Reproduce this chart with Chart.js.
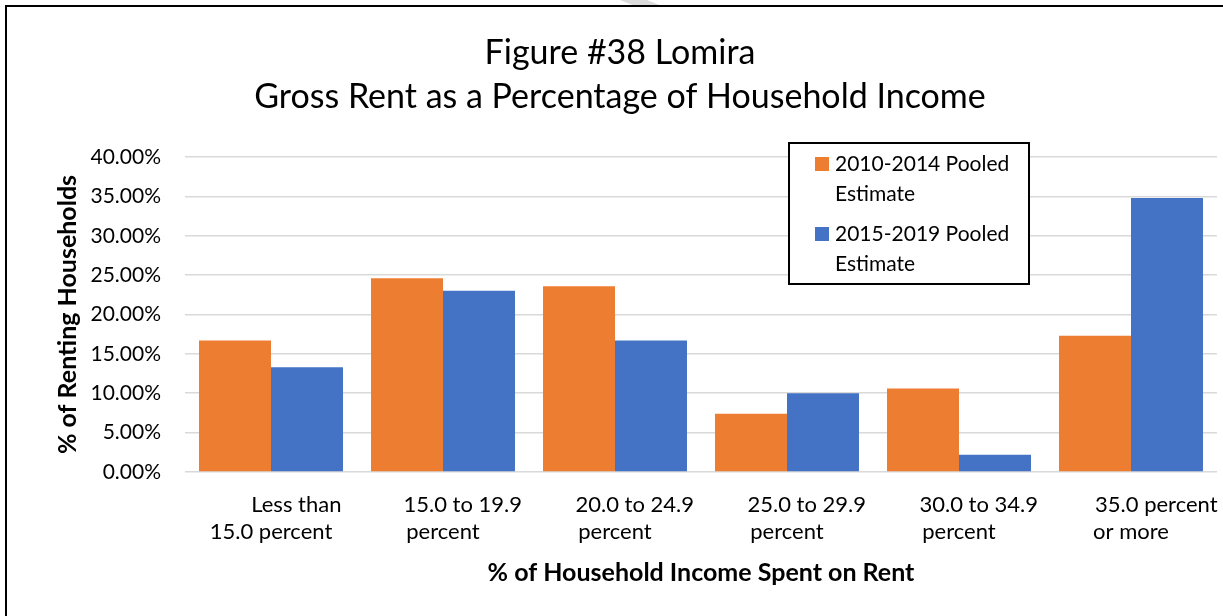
<!DOCTYPE html>
<html>
<head>
<meta charset="utf-8">
<title>Figure #38 Lomira</title>
<script src="https://cdn.jsdelivr.net/npm/chart.js@4.4.1/dist/chart.umd.min.js"></script>
<style>
  html, body { margin: 0; padding: 0; background: #fff; overflow: hidden; }
  #wrap { position: relative; width: 1223px; height: 616px; }
  #rentChart { position: absolute; left: 0; top: 0; }
  #frame {
    position: absolute; left: 5px; top: 5px; width: 1300px; height: 700px;
    border: 2.5px solid #000; pointer-events: none;
  }
  #mark {
    position: absolute; left: 615px; top: 0; width: 50px; height: 6px;
    background: #dcdcdc; clip-path: polygon(10% 0, 64% 0, 94% 100%, 40% 100%);
  }
</style>
</head>
<body>
<div id="wrap">
  <div id="mark"></div>
  <canvas id="rentChart" width="1223" height="616"></canvas>
  <div id="frame"></div>
</div>
<script>
const titleLines = ["Figure #38 Lomira", "Gross Rent as a Percentage of Household Income"];
const categoryTop = ["Less than", "15.0 to 19.9", "20.0 to 24.9", "25.0 to 29.9", "30.0 to 34.9", "35.0 percent"];
const categoryBottom = ["15.0 percent", "percent", "percent", "percent", "percent", "or more"];
const pooled2010 = [16.7, 24.6, 23.6, 7.4, 10.6, 17.3];
const pooled2015 = [13.3, 23.0, 16.7, 10.0, 2.2, 34.8];
const seriesNames = [["2010-2014 Pooled", "Estimate"], ["2015-2019 Pooled", "Estimate"]];
const yTicks = [0, 5, 10, 15, 20, 25, 30, 35, 40];

const FONT = "Lato";
// first wrapped line sits a bit right of centre
const indent = [9, 7, 7, 7, 7, 9];
const labels = categoryTop.map((t, i) => [" ".repeat(indent[i]) + t, categoryBottom[i]]);

// boxed legend in the upper right of the plot
const boxLegend = {
  id: "boxLegend",
  afterDatasetsDraw(chart) {
    const ctx = chart.ctx;
    const x = 789, y = 143, w = 240, h = 141;
    ctx.save();
    ctx.fillStyle = "#fff";
    ctx.fillRect(x, y, w, h);
    ctx.lineWidth = 2;
    ctx.strokeStyle = "#000";
    ctx.strokeRect(x, y, w, h);
    ctx.font = `21px ${FONT}`;
    ctx.textBaseline = "alphabetic";
    chart.data.datasets.forEach((ds, i) => {
      const top = y + 14 + i * 70;
      ctx.fillStyle = ds.backgroundColor;
      ctx.fillRect(x + 26, top, 14, 14);
      ctx.fillStyle = "#000";
      ds.label.forEach((line, j) => {
        ctx.fillText(line, x + 46, top + 14 + j * 30);
      });
    });
    ctx.restore();
  }
};

new Chart("rentChart", {
  type: "bar",
  data: {
    labels: labels,
    datasets: [
      { label: seriesNames[0], data: pooled2010, backgroundColor: "#ED7D31" },
      { label: seriesNames[1], data: pooled2015, backgroundColor: "#4472C4" },
    ],
  },
  options: {
    responsive: false,
    animation: false,
    layout: { padding: { left: 23, right: 6, top: 0, bottom: 0 } },
    datasets: { bar: { categoryPercentage: 0.837, barPercentage: 1.0 } },
    plugins: {
      legend: { display: false },
      tooltip: { enabled: false },
      title: {
        display: true,
        text: titleLines,
        color: "#000",
        font: { family: FONT, size: 34, weight: "normal", lineHeight: 1.294 },
        padding: { top: 31, bottom: 38 },
      },
    },
    scales: {
      x: {
        grid: { display: false, drawTicks: false },
        border: { display: false },
        ticks: {
          color: "#000",
          maxRotation: 0,
          autoSkip: false,
          padding: 19,
          font: { family: FONT, size: 22, lineHeight: 1.25 },
        },
        title: {
          display: true,
          text: "% of Household Income Spent on Rent",
          color: "#000",
          font: { family: FONT, size: 25, weight: "bold" },
          padding: { top: 0, bottom: 28 },
        },
        afterFit(scale) {
          scale.height = 144;
          scale.paddingLeft = 0;
          scale.paddingRight = 0;
        },
      },
      y: {
        min: 0,
        max: 40,
        afterBuildTicks(scale) { scale.ticks = yTicks.map(v => ({ value: v })); },
        grid: { color: "#d9d9d9", lineWidth: 1.5, drawTicks: false },
        border: { display: false },
        ticks: {
          color: "#000",
          padding: 24,
          font: { family: FONT, size: 21 },
          callback: v => v.toFixed(2) + "%",
        },
        title: {
          display: true,
          text: "% of Renting Households",
          color: "#000",
          font: { family: FONT, size: 25, weight: "bold" },
          padding: { top: 30, bottom: 0 },
        },
        afterFit(scale) { scale.width = 162; },
      },
    },
  },
  plugins: [boxLegend],
});
</script>
</body>
</html>
